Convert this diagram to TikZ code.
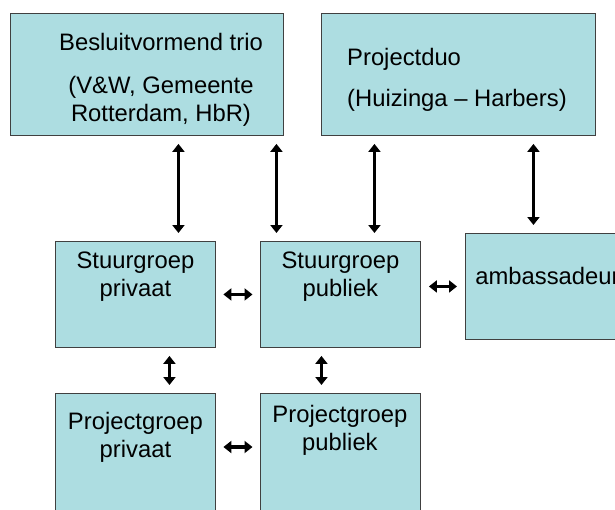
\documentclass[tikz,border=0pt]{standalone}
\usepackage{fontspec}
\setmainfont{Liberation Sans}
\usetikzlibrary{arrows.meta}
\usetikzlibrary{positioning}
\definecolor{mteal}{RGB}{173,221,225}
\definecolor{mgrey}{RGB}{64,64,64}

\tikzset{
  box/.style={draw=mgrey, fill=mteal, line width=0.9pt, inner sep=0pt, anchor=north west},
  lbl/.style={align=center, inner sep=0pt, anchor=north, font=\fontsize{23.8}{28}\selectfont},
  dbl/.style={line width=3.2pt, {Triangle[length=8pt,width=12pt]}-{Triangle[length=8pt,width=12pt]},
    shorten <=8pt, shorten >=8pt}
}

\begin{document}
\begin{tikzpicture}[x=1pt, y=-1pt]
\useasboundingbox (0,0) rectangle (615,509);
\clip (0,0) rectangle (615,509);

% top row
\node[box, minimum width=273pt, minimum height=122pt] (trio) at (10,13) {};
\node[box, minimum width=274pt, minimum height=122pt] (duo)  at (321,13) {};

% middle row
\node[box, minimum width=160pt, minimum height=106pt] (sgpriv) at (55,241) {};
\node[box, minimum width=160pt, minimum height=106pt] (sgpub)  at (260,241) {};
\node[box, minimum width=176pt, minimum height=106pt] (amb)    at (465,233) {};

% bottom row
\node[box, minimum width=160pt, minimum height=140pt] (pgpriv) at (55,393) {};
\node[box, minimum width=160pt, minimum height=140pt] (pgpub)  at (260,393) {};

% texts
\node[lbl] (triotxt) at (161,32.6) {Besluitvormend trio\\[15pt](V\&W, Gemeente\\Rotterdam, HbR)};
\node[lbl, align=left, anchor=north west] (duotxt) at (347,47.6) {Projectduo\\[13pt](Huizinga – Harbers)};
\node[lbl, below=10.6pt of sgpriv.north] (sgprivtxt) {Stuurgroep\\privaat};
\node[lbl, below=10.6pt of sgpub.north]  (sgpubtxt)  {Stuurgroep\\publiek};
\node[lbl, below=33.6pt of amb.north]    (ambtxt)    {ambassadeurs};
\node[lbl, below=18.6pt of pgpriv.north] (pgprivtxt) {Projectgroep\\privaat};
\node[lbl, below=11.6pt of pgpub.north, xshift=-0.5pt] (pgpubtxt) {Projectgroep\\publiek};

% vertical arrows
\draw[dbl] ([xshift=31.5pt]trio.south)  -- ([xshift=31.5pt]trio.south |- sgpriv.north);
\draw[dbl] ([xshift=129.5pt]trio.south) -- ([xshift=129.5pt]trio.south |- sgpub.north);
\draw[dbl] ([xshift=-84pt]duo.south)    -- ([xshift=-84pt]duo.south |- sgpub.north);
\draw[dbl] ([xshift=75pt]duo.south)     -- ([xshift=75pt]duo.south |- amb.north);
\draw[dbl] ([xshift=34pt]sgpriv.south)  -- ([xshift=34pt]sgpriv.south |- pgpriv.north);
\draw[dbl] ([xshift=-19pt]sgpub.south)  -- ([xshift=-19pt]sgpub.south |- pgpub.north);

% horizontal arrows
\draw[dbl, shorten <=7.5pt, shorten >=7.5pt] (sgpriv.east) -- (sgpub.west);
\draw[dbl] (sgpub.east |- amb.west) -- (amb.west);
\draw[dbl, shorten <=7.5pt, shorten >=7.5pt] ([yshift=-54pt]pgpriv.north east) -- ([yshift=-54pt]pgpub.north west);

\end{tikzpicture}
\end{document}
